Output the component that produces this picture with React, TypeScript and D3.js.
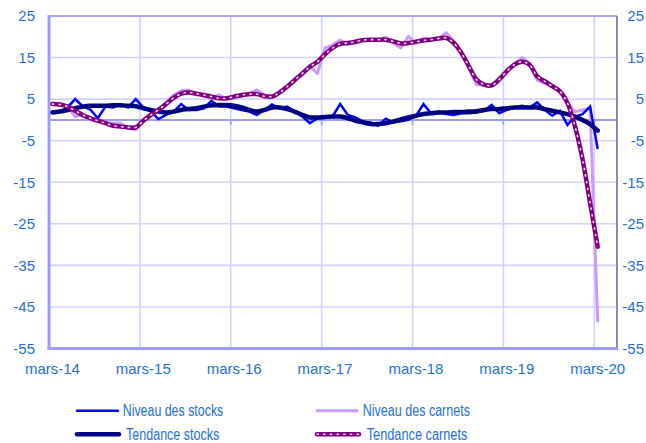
import React from "react";
import * as d3 from "d3";

const yearLabels = ["mars-14", "mars-15", "mars-16", "mars-17", "mars-18", "mars-19", "mars-20"];
const yTicks = [25, 15, 5, -5, -15, -25, -35, -45, -55];

const niveauStocks = [
  2.0, 2.0, 3.0, 5.0, 3.3, 2.5, 0.4, 3.2, 3.0, 3.7, 3.0, 5.0,
  3.0, 2.0, 0.2, 1.2, 2.0, 3.8, 2.4, 2.4, 2.8, 4.6, 3.2, 3.2,
  2.8, 2.4, 2.0, 1.2, 2.4, 3.7, 2.8, 3.2, 2.0, 0.8, -0.8, 0.4,
  0.8, 0.9, 3.8, 1.2, 0.6, -0.4, -0.6, -1.4, 0.3, -0.6, -0.3, 0.0,
  1.0, 3.8, 1.6, 2.0, 1.4, 1.2, 1.6, 1.6, 1.8, 2.2, 3.6, 1.6,
  2.4, 3.0, 3.4, 3.0, 4.2, 2.4, 1.0, 2.2, -1.2, 0.8, 1.4, 3.2,
  -7.0,
];
const tendanceStocks = [
  1.8, 2.0, 2.4, 2.8, 3.2, 3.4, 3.4, 3.4, 3.5, 3.5, 3.4, 3.3,
  2.8, 2.4, 2.0, 1.8, 2.0, 2.4, 2.6, 2.8, 3.2, 3.5, 3.6, 3.6,
  3.4, 3.0, 2.4, 2.0, 2.4, 3.0, 3.0, 2.6, 2.0, 1.2, 0.6, 0.6,
  0.7, 0.8, 0.8, 0.4, -0.2, -0.6, -1.0, -1.0, -0.8, -0.4, 0.1, 0.6,
  1.0, 1.4, 1.6, 1.8, 1.8, 1.9, 1.9, 2.0, 2.1, 2.4, 2.6, 2.6,
  2.8, 3.0, 3.0, 3.0, 3.0, 2.6, 2.2, 1.8, 1.4, 0.8, 0.0, -1.0,
  -2.6,
];
const niveauCarnets = [
  4.0, 3.8, 3.2, 0.8, 1.2, 0.0, -0.4, -0.7, -0.8, -0.8, -2.0, -2.4,
  0.0, 1.2, 2.4, 4.1, 6.0, 7.0, 7.2, 6.2, 5.7, 5.2, 6.0, 5.0,
  5.5, 5.6, 6.4, 7.2, 6.0, 5.7, 6.4, 8.0, 9.6, 10.8, 12.8, 11.2,
  17.3, 18.0, 19.2, 18.2, 18.5, 19.1, 19.3, 19.1, 19.9, 18.5, 17.3, 20.1,
  18.5, 19.7, 19.1, 19.6, 21.0, 18.9, 16.1, 12.5, 8.5, 8.3, 8.5, 10.1,
  12.1, 13.4, 15.0, 13.6, 9.6, 8.8, 8.0, 7.2, 4.1, 2.0, 2.4, 2.8,
  -48.7,
];
const tendanceCarnets = [
  3.8, 3.7, 3.2, 2.2, 1.2, 0.4, -0.2, -0.8, -1.4, -1.6, -1.8, -1.8,
  -0.2, 1.2, 2.4, 3.8, 5.3, 6.3, 6.6, 6.3, 6.0, 5.6, 5.2, 5.2,
  5.6, 6.0, 6.2, 6.2, 5.7, 5.6, 6.6, 8.0, 9.6, 11.2, 12.8, 14.0,
  15.8, 17.3, 18.3, 18.5, 18.8, 19.2, 19.3, 19.3, 19.3, 18.9, 18.4, 18.5,
  18.8, 19.1, 19.3, 19.6, 19.7, 18.5, 16.1, 12.9, 9.7, 8.5, 8.3, 9.7,
  11.7, 13.3, 14.0, 13.3, 10.5, 9.3, 8.1, 6.9, 4.1, -1.5, -9.5, -20.0,
  -30.5,
];

const W = 646;
const H = 443;
const left = 49, right = 617, top = 16, bottom = 348.5;
const textColor = "#1F6FD6";
const font = "'Liberation Sans', Arial, sans-serif";

export default function App() {
  const x = d3.scaleLinear().domain([0, 75]).range([left, right]);
  const y = d3.scaleLinear().domain([-55, 25]).range([bottom, top]);
  const px = (i: number) => x(i + 0.45);

  const straight = d3.line<number>().x((_, i) => px(i)).y((d) => y(d));
  const smooth = d3.line<number>().x((_, i) => px(i)).y((d) => y(d)).curve(d3.curveCatmullRom.alpha(0.5));

  const yearIdx = yearLabels.map((_, k) => k * 12);

  return (
    <svg width={W} height={H} style={{ position: "absolute", left: 0, top: 0, background: "#fff" }}>
      {yTicks.filter((t) => t !== 25 && t !== -55).map((t) => (
        <line key={"h" + t} x1={left} x2={right} y1={y(t)} y2={y(t)} stroke="#D2D2FF" strokeWidth={1.6} />
      ))}
      {yearIdx.slice(1).map((m) => (
        <line key={"v" + m} x1={x(m)} x2={x(m)} y1={top} y2={bottom} stroke="#D2D2FF" strokeWidth={1.6} />
      ))}
      <line x1={left} x2={right} y1={y(0)} y2={y(0)} stroke="#9C9CFF" strokeWidth={2} />
      {yearIdx.slice(1).map((m) => (
        <line key={"t" + m} x1={x(m)} x2={x(m)} y1={y(0)} y2={y(0) + 5} stroke="#9C9CFF" strokeWidth={1.6} />
      ))}
      <line x1={left} x2={right} y1={top} y2={top} stroke="#A8A8FF" strokeWidth={2} />
      <line x1={right} x2={right} y1={top} y2={bottom + 1.5} stroke="#8A8AAE" strokeWidth={2} />
      <line x1={left - 1.5} x2={right} y1={bottom} y2={bottom} stroke="#9C9CFF" strokeWidth={3} />
      <line x1={left} x2={left} y1={top - 1} y2={bottom + 1.5} stroke="#9C9CFF" strokeWidth={3} />

      <path d={straight(niveauCarnets) || ""} fill="none" stroke="#CC99FF" strokeWidth={3} strokeLinejoin="round" />
      <path d={straight(niveauStocks) || ""} fill="none" stroke="#0000FF" strokeWidth={2.5} />
      <path d={smooth(tendanceStocks) || ""} fill="none" stroke="#000080" strokeWidth={4.5} strokeLinecap="round" />
      <path d={smooth(tendanceCarnets) || ""} fill="none" stroke="#800080" strokeWidth={4.5} strokeLinecap="round" />
      <path d={smooth(tendanceCarnets) || ""} fill="none" stroke="#F4DDF4" strokeWidth={1.6} strokeDasharray="1.2 5.5" strokeLinecap="round" />

      {yTicks.map((t) => (
        <text key={"l" + t} x={35} y={y(t) + 5.3} textAnchor="end" fontSize={15} fontFamily={font} fill={textColor}>{t}</text>
      ))}
      {yTicks.map((t) => (
        <text key={"r" + t} x={644} y={y(t) + 5.3} textAnchor="end" fontSize={15} fontFamily={font} fill={textColor}>{t}</text>
      ))}
      {yearLabels.map((lab, k) => (
        <text key={lab} x={px(yearIdx[k])} y={374} textAnchor="middle" fontSize={15} fontFamily={font} fill={textColor}>{lab}</text>
      ))}

      <line x1={77} x2={118} y1={410.7} y2={410.7} stroke="#0000FF" strokeWidth={2.5} strokeLinecap="round" />
      <text x={122.7} y={416.2} fontSize={16} fontFamily={font} fill={textColor} textLength={100.6} lengthAdjust="spacingAndGlyphs">Niveau des stocks</text>
      <line x1={77} x2={119} y1={434.3} y2={434.3} stroke="#000080" strokeWidth={4.5} strokeLinecap="round" />
      <text x={126} y={439.8} fontSize={16} fontFamily={font} fill={textColor} textLength={93.3} lengthAdjust="spacingAndGlyphs">Tendance stocks</text>
      <line x1={317} x2={357} y1={410.7} y2={410.7} stroke="#CC99FF" strokeWidth={3} strokeLinecap="round" />
      <text x={362.7} y={416.2} fontSize={16} fontFamily={font} fill={textColor} textLength={107.3} lengthAdjust="spacingAndGlyphs">Niveau des carnets</text>
      <line x1={317} x2={359} y1={434.3} y2={434.3} stroke="#800080" strokeWidth={4.5} strokeLinecap="round" />
      <line x1={317} x2={359} y1={434.3} y2={434.3} stroke="#F4DDF4" strokeWidth={1.6} strokeDasharray="1.2 5.5" strokeLinecap="round" />
      <text x={366.7} y={439.8} fontSize={16} fontFamily={font} fill={textColor} textLength={100.7} lengthAdjust="spacingAndGlyphs">Tendance carnets</text>
    </svg>
  );
}
